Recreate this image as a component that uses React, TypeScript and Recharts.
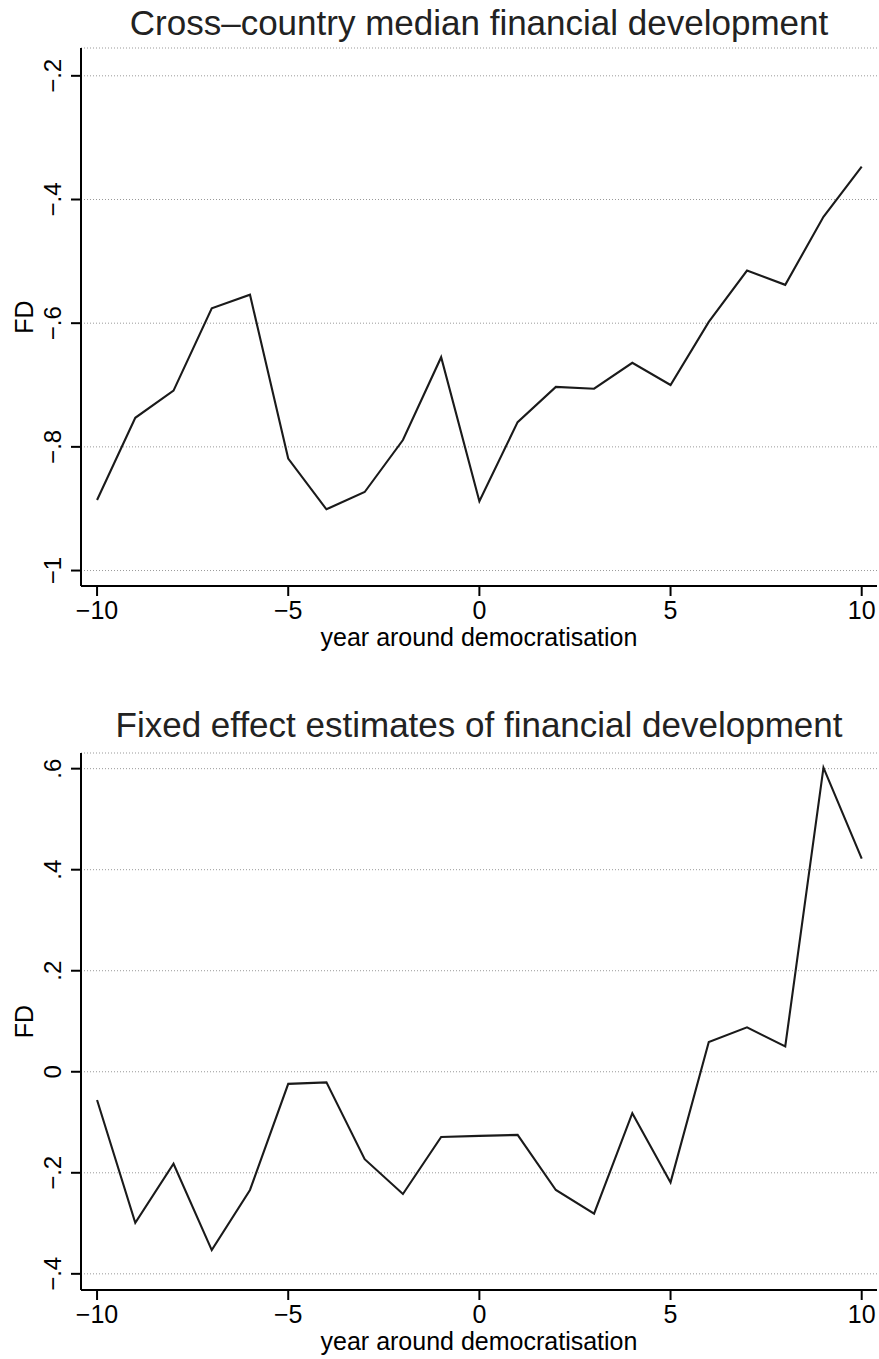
import React from "react";
import { LineChart, Line, XAxis, YAxis, CartesianGrid, Label } from "recharts";

const years = [-10, -9, -8, -7, -6, -5, -4, -3, -2, -1, 0, 1, 2, 3, 4, 5, 6, 7, 8, 9, 10];
const medianFD = [-0.886, -0.753, -0.709, -0.576, -0.554, -0.819, -0.901, -0.873, -0.789, -0.655, -0.888, -0.76, -0.703, -0.706, -0.664, -0.7, -0.598, -0.515, -0.538, -0.428, -0.347];
const fixedFD = [-0.056, -0.299, -0.182, -0.353, -0.234, -0.024, -0.021, -0.173, -0.242, -0.129, -0.127, -0.125, -0.234, -0.281, -0.082, -0.219, 0.059, 0.088, 0.05, 0.602, 0.422];

const xTicks = [-10, -5, 0, 5, 10];
const medianTicks = [-1, -0.8, -0.6, -0.4, -0.2];
const fixedTicks = [-0.4, -0.2, 0, 0.2, 0.4, 0.6];

const FONT = "'Liberation Sans', Arial, Helvetica, sans-serif";
const W = 879;

// stata style numbers: -.2, .6, 0, -1 with a real minus sign
const fmt = (v: number) => {
  const r = Math.round(v * 10) / 10;
  if (r === 0) return "0";
  let s = Math.abs(r).toString();
  if (s.startsWith("0.")) s = s.slice(1);
  return (r < 0 ? "\u2212" : "") + s;
};

const XTick = (props: any) => {
  const { x, y, payload } = props;
  return (
    <text x={x} y={y + 21} textAnchor="middle" fontSize={25} fontFamily={FONT} fill="#000">
      {fmt(payload.value)}
    </text>
  );
};

const YTick = (props: any) => {
  const { x, y, payload } = props;
  return (
    <text
      transform={`translate(${x - 8}, ${y}) rotate(-90)`}
      textAnchor="middle"
      fontSize={24}
      fontFamily={FONT}
      fill="#000"
    >
      {fmt(payload.value)}
    </text>
  );
};

interface PanelProps {
  title: string;
  values: number[];
  yTicks: number[];
  yDomain: [number, number];
  height: number;
  top: number;
  xAxisHeight: number;
  titleY: number;
  xLabelDy: number;
}

function Panel({ title, values, yTicks, yDomain, height, top, xAxisHeight, titleY, xLabelDy }: PanelProps) {
  const data = years.map((year, i) => ({ year, fd: values[i] }));
  return (
    <div style={{ position: "relative", width: W, height }}>
      <div
        style={{
          position: "absolute",
          left: 81,
          width: 796,
          top: titleY - 32,
          textAlign: "center",
          fontFamily: FONT,
          fontSize: 35,
          lineHeight: "40px",
          color: "#222",
          whiteSpace: "nowrap",
        }}
      >
        {title}
      </div>
      <LineChart width={W} height={height} data={data} margin={{ top, right: 2, bottom: 0, left: 0 }}>
        <CartesianGrid horizontal vertical={false} stroke="#999" strokeDasharray="1 2" strokeWidth={1} />
        <XAxis
          dataKey="year"
          type="number"
          domain={[-10.42, 10.4]}
          ticks={xTicks}
          allowDataOverflow
          height={xAxisHeight}
          tickSize={10}
          tickLine={{ stroke: "#000", strokeWidth: 2 }}
          axisLine={{ stroke: "#000", strokeWidth: 2 }}
          tick={<XTick />}
        >
          <Label
            content={(p: any) => {
              const vb = p.viewBox;
              return (
                <text
                  x={vb.x + vb.width / 2}
                  y={vb.y + xLabelDy}
                  textAnchor="middle"
                  fontSize={25}
                  fontFamily={FONT}
                  fill="#000"
                >
                  year around democratisation
                </text>
              );
            }}
          />
        </XAxis>
        <YAxis
          type="number"
          domain={yDomain}
          ticks={yTicks}
          allowDataOverflow
          width={81}
          tickSize={10}
          tickLine={{ stroke: "#000", strokeWidth: 2 }}
          axisLine={{ stroke: "#000", strokeWidth: 2 }}
          tick={<YTick />}
        >
          <Label
            content={(p: any) => {
              const vb = p.viewBox;
              return (
                <text
                  transform={`translate(33, ${vb.y + vb.height / 2}) rotate(-90)`}
                  textAnchor="middle"
                  fontSize={25}
                  fontFamily={FONT}
                  fill="#000"
                >
                  FD
                </text>
              );
            }}
          />
        </YAxis>
        <Line
          type="linear"
          dataKey="fd"
          stroke="#1a1a1a"
          strokeWidth={2.1}
          dot={false}
          activeDot={false}
          isAnimationActive={false}
        />
      </LineChart>
    </div>
  );
}

export default function App() {
  return (
    <div style={{ position: "absolute", left: 0, top: 0, width: W, height: 1359, background: "#fff" }}>
      <Panel
        title="Cross–country median financial development"
        values={medianFD}
        yTicks={medianTicks}
        yDomain={[-1.025, -0.155]}
        height={680}
        top={48}
        xAxisHeight={94}
        titleY={35}
        xLabelDy={60}
      />
      <Panel
        title="Fixed effect estimates of financial development"
        values={fixedFD}
        yTicks={fixedTicks}
        yDomain={[-0.432, 0.631]}
        height={679}
        top={73}
        xAxisHeight={69}
        titleY={57}
        xLabelDy={60}
      />
    </div>
  );
}
